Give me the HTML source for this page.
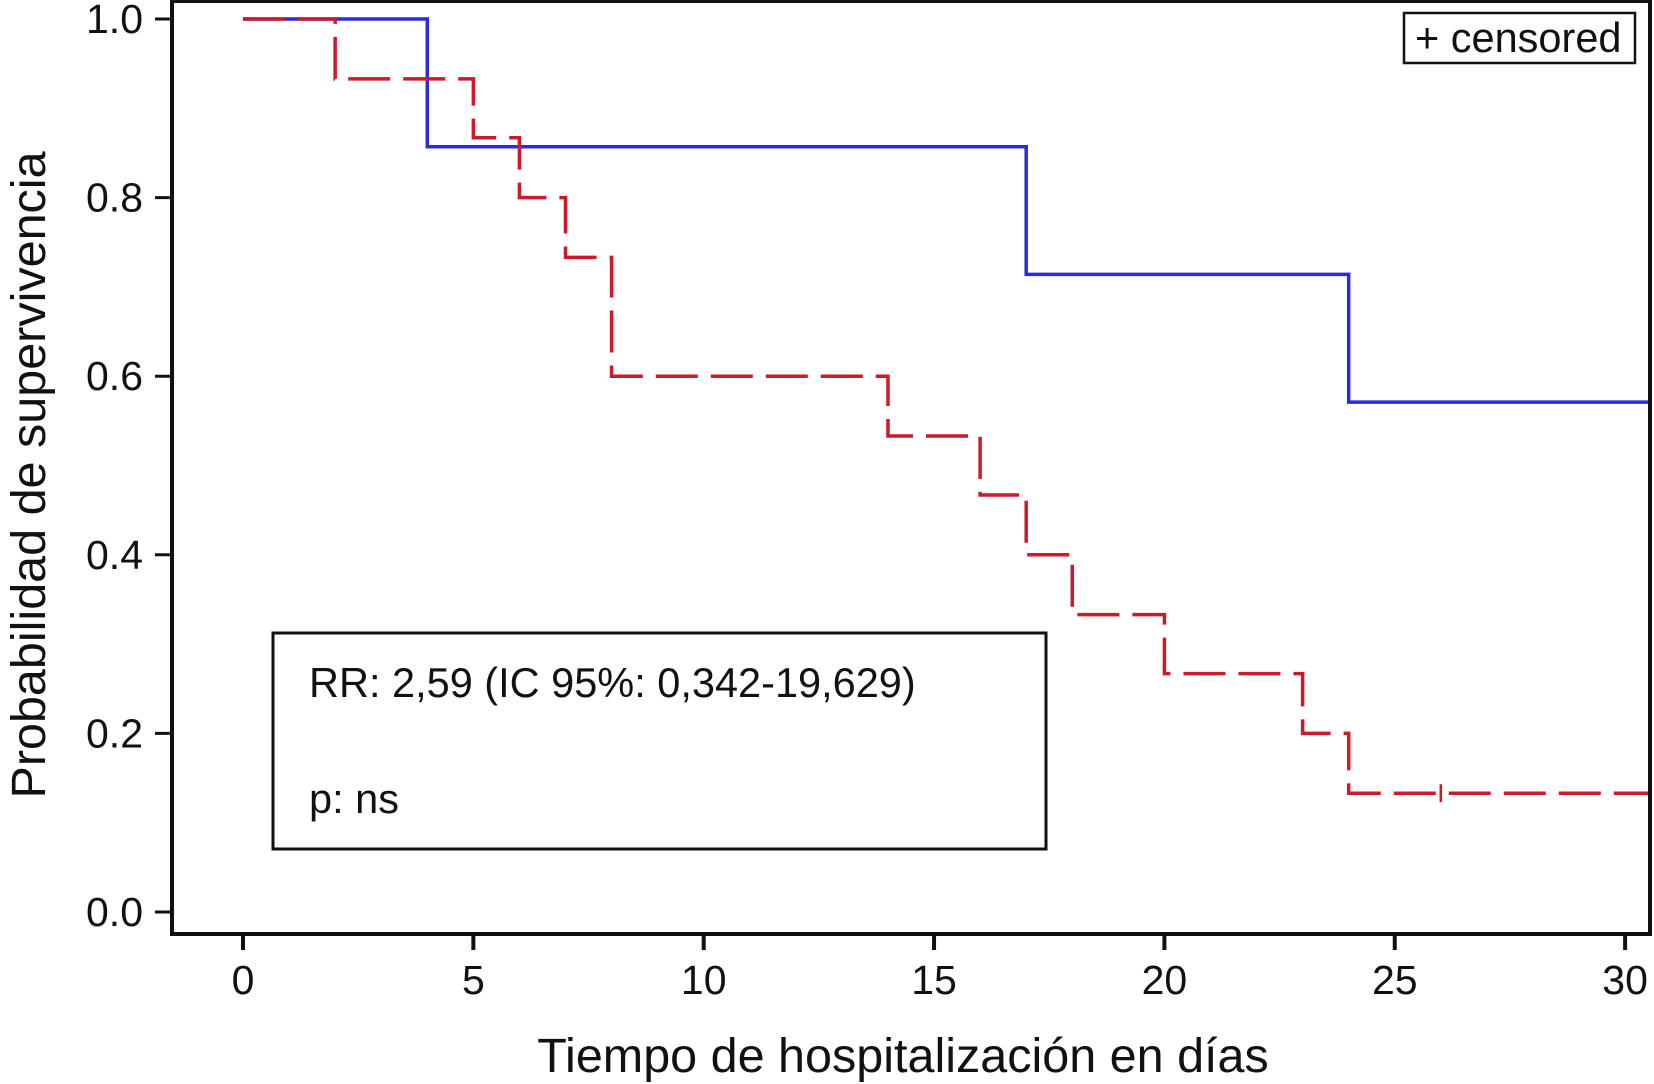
<!DOCTYPE html>
<html><head><meta charset="utf-8"><style>
html,body{margin:0;padding:0;background:#fff;}
body{position:relative;}
svg{display:block;font-family:"Liberation Sans",Arial,sans-serif;}
</style></head><body>
<svg width="1654" height="1084" viewBox="0 0 1654 1084" xmlns="http://www.w3.org/2000/svg">
<g id="plot"></g>
</svg>
<script>
const xTicks=[0,5,10,15,20,25,30];
const yTicks=[0.0,0.2,0.4,0.6,0.8,1.0];
const yTickLabels=["0.0","0.2","0.4","0.6","0.8","1.0"];
const blueTimes=[0,4,17,24,31];
const blueSurv=[1.0,0.857,0.714,0.571,0.571];
const redTimes=[0,2,5,6,7,8,14,16,17,18,20,23,24,31];
const redSurv=[1.0,0.933,0.867,0.8,0.733,0.6,0.533,0.467,0.4,0.333,0.267,0.2,0.133,0.133];
const censorTimes=[26];
const censorSurv=[0.133];

const X0=243,XU=46.07,Y0=912,YH=893;
const L=172,T=1,R=1650,B=934;
const sx=v=>X0+v*XU;
const sy=v=>Y0-v*YH;
const NS='http://www.w3.org/2000/svg';
const svg=document.querySelector('svg');
function mk(tag,attrs,parent){const e=document.createElementNS(NS,tag);for(const k in attrs)e.setAttribute(k,attrs[k]);(parent||svg).appendChild(e);return e;}

const defs=mk('defs',{});
const cp=mk('clipPath',{id:'clip'},defs);
mk('rect',{x:L,y:T,width:R-L,height:B-T},cp);

function stepPath(ts,ss){let d='M'+sx(ts[0])+','+sy(ss[0]);for(let i=1;i<ts.length;i++){d+=' H'+sx(ts[i]);if(i<ts.length-1)d+=' V'+sy(ss[i]);}return d;}

const g=mk('g',{'clip-path':'url(#clip)'});
const blue=mk('path',{d:stepPath(blueTimes,blueSurv),fill:'none',stroke:'#2b2bdc','stroke-width':3.5},g);


const red=mk('path',{d:stepPath(redTimes,redSurv),fill:'none',stroke:'#cc1a2a','stroke-width':3.5,'stroke-dasharray':'42,13'},g);


censorTimes.forEach((t,i)=>{
  const c=mk('path',{d:'M'+sx(t)+','+(sy(censorSurv[i])-9)+' V'+(sy(censorSurv[i])+9),stroke:'#cc1a2a','stroke-width':2.5},g);
  
  
});

const fr=mk('path',{d:`M${L},${T} H${R} V${B} H${L} Z`,fill:'none',stroke:'#111','stroke-width':4});



xTicks.forEach(v=>{
  const t=mk('line',{x1:sx(v),x2:sx(v),y1:B,y2:B+16,stroke:'#111','stroke-width':4});
  
  
  const tx=mk('text',{x:sx(v),y:994,'font-size':41,'text-anchor':'middle',fill:'#111'});
  tx.textContent=v;
  
  
});
yTicks.forEach((v,i)=>{
  const t=mk('line',{x1:L-17,x2:L,y1:sy(v),y2:sy(v),stroke:'#111','stroke-width':3});
  
  
  const tx=mk('text',{x:143,y:sy(v)+14,'font-size':41,'text-anchor':'end',fill:'#111'});
  tx.textContent=yTickLabels[i];
  
  
});
</script>
<svg style="position:absolute;left:0;top:0" width="1654" height="1084" xmlns="http://www.w3.org/2000/svg">
<text x="903" y="1072" font-size="48.5" text-anchor="middle" fill="#111" font-family="Liberation Sans, sans-serif">Tiempo de hospitalización en días</text>
<text transform="translate(45,475) rotate(-90)" font-size="48.5" text-anchor="middle" fill="#111" font-family="Liberation Sans, sans-serif">Probabilidad de supervivencia</text>
<g>
<rect x="273" y="633" width="773" height="216" fill="#fff" stroke="#111" stroke-width="3"/>
<text x="309" y="697" font-size="41.5" fill="#111" font-family="Liberation Sans, sans-serif">RR: 2,59 (IC 95%: 0,342-19,629)</text>
<text x="309" y="813" font-size="41.5" fill="#111" font-family="Liberation Sans, sans-serif">p: ns</text>
</g>
<g>
<rect x="1404" y="13" width="231" height="50" fill="#fff" stroke="#111" stroke-width="2.5"/>
<text x="1415" y="52" font-size="41.5" fill="#111" font-family="Liberation Sans, sans-serif">+ censored</text>
</g>
</svg>
</body></html>
